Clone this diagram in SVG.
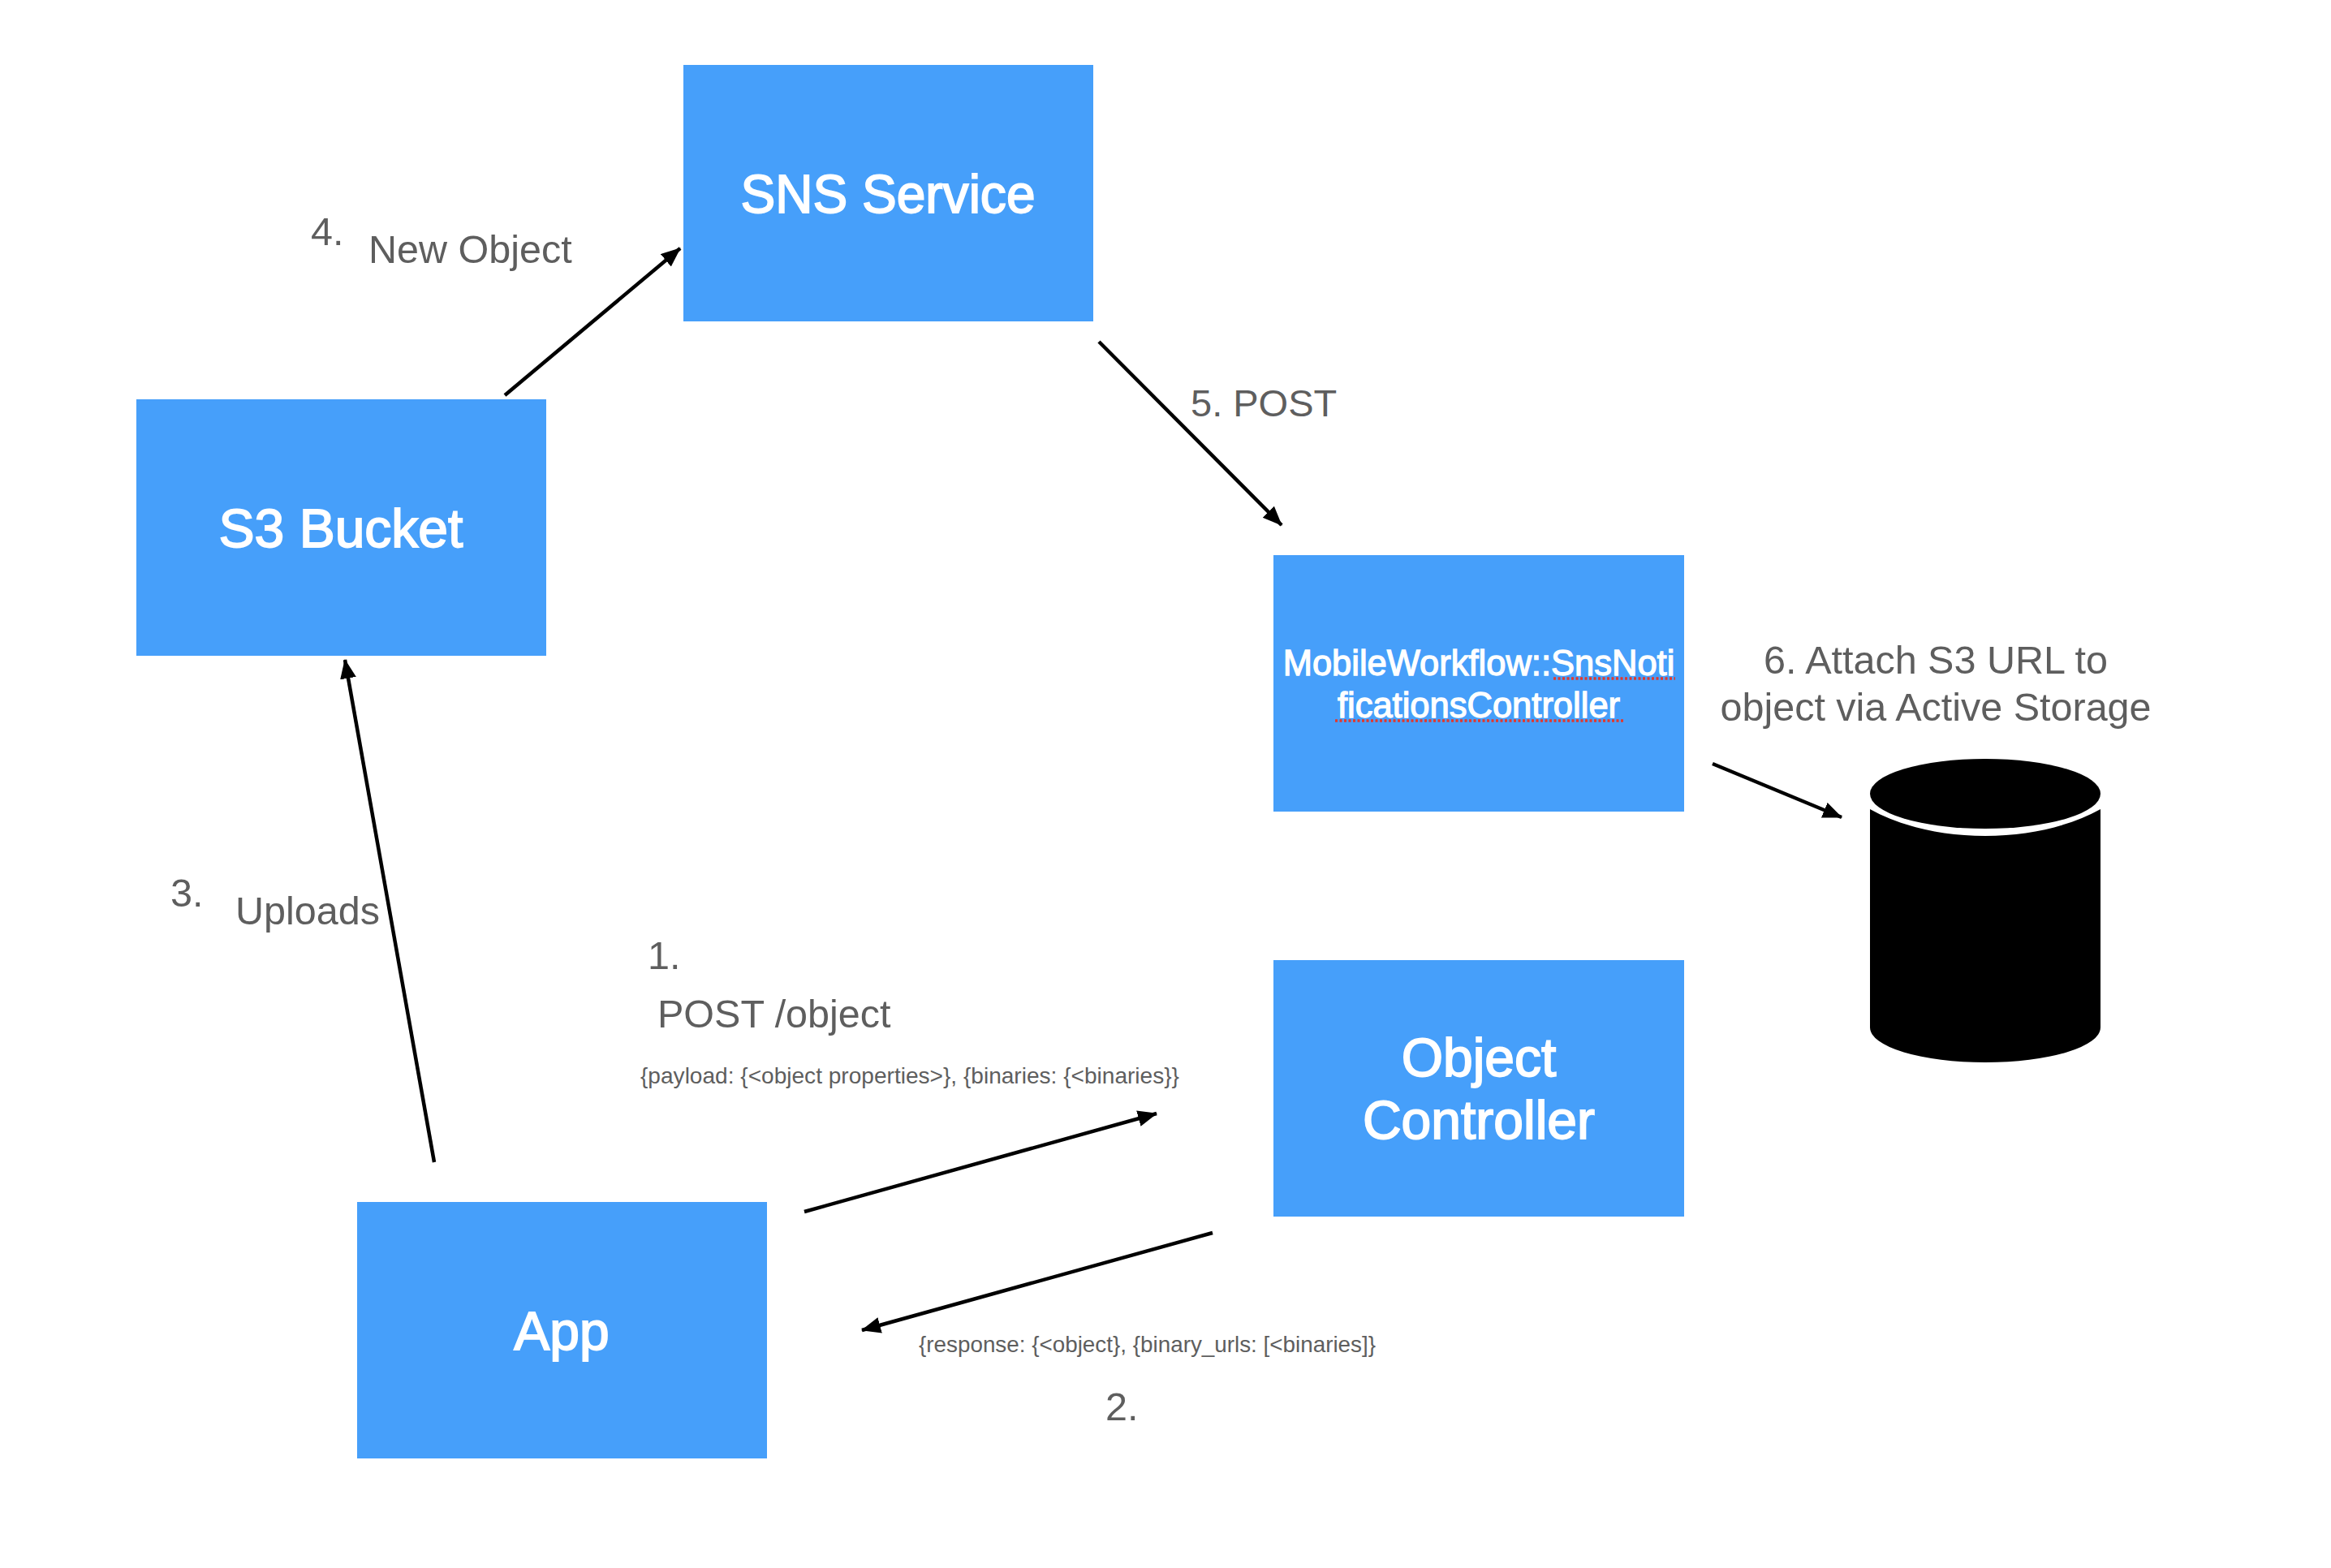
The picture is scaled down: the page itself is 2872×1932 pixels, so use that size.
<svg xmlns="http://www.w3.org/2000/svg" width="2872" height="1932" viewBox="0 0 2872 1932">
<style>
text{font-family:"Liberation Sans",Arial,sans-serif}
.box{fill:#469ffa}
.t{fill:#fff;font-size:66px;text-anchor:middle;stroke:#fff;stroke-width:1.8}
.m{fill:#fff;font-size:43.5px;text-anchor:middle;stroke:#fff;stroke-width:1.3}
.l{fill:#5e5e5e;font-size:48.5px}
.s{fill:#5e5e5e;font-size:28px}
.c{fill:none;stroke:#000;stroke-width:4.5;marker-end:url(#a)}
.q{fill:none;stroke:#e2382c;stroke-width:3.5;stroke-dasharray:3 2.5}
</style>
<defs><marker id="a" markerUnits="userSpaceOnUse" markerWidth="26" markerHeight="22" refX="23" refY="10" orient="auto"><path d="M0 0L24 10L0 20Z" fill="#000"/></marker></defs>
<rect width="2872" height="1932" fill="#fff"/>
<g id="sns-service"><rect class="box" x="842" y="80" width="505" height="316"/><text class="t" x="1094" y="262" textLength="363" lengthAdjust="spacingAndGlyphs">SNS Service</text></g>
<g id="s3-bucket"><rect class="box" x="168" y="492" width="505" height="316"/><text class="t" x="420" y="674">S3 Bucket</text></g>
<g id="sns-controller"><rect class="box" x="1569" y="684" width="506" height="316"/><text class="m" x="1822" y="832">MobileWorkflow::SnsNoti</text><text class="m" x="1822" y="884">ficationsController</text><path class="q" d="M1914 836H2064M1645 888H2000"/></g>
<g id="object-controller"><rect class="box" x="1569" y="1183" width="506" height="316"/><text class="t" x="1822" y="1326">Object</text><text class="t" x="1822" y="1403">Controller</text></g>
<g id="app"><rect class="box" x="440" y="1481" width="505" height="316"/><text class="t" x="692" y="1663">App</text></g>
<g id="storage"><path d="M2304 997C2342 1018 2392 1030 2446 1030C2500 1030 2550 1018 2588 997V1266A142 43 0 0 1 2304 1266Z"/><ellipse cx="2446" cy="978" rx="142" ry="43"/></g>
<g id="connectors">
<path class="c" d="M622 487L838 306"/>
<path class="c" d="M1354 421L1579 647"/>
<path class="c" d="M2110 941L2269 1007"/>
<path class="c" d="M535 1432L425 813"/>
<path class="c" d="M991 1493L1425 1372"/>
<path class="c" d="M1494 1519L1062 1639"/>
</g>
<g id="labels">
<text class="l" x="383" y="302">4.</text>
<text class="l" x="454" y="324">New Object</text>
<text class="l" x="1467" y="513" style="font-size:47px">5. POST</text>
<text class="l" x="2385" y="830" text-anchor="middle">6. Attach S3 URL to</text>
<text class="l" x="2385" y="888" text-anchor="middle">object via Active Storage</text>
<text class="l" x="210" y="1117">3.</text>
<text class="l" x="290" y="1139">Uploads</text>
<text class="l" x="798" y="1194">1.</text>
<text class="l" x="810" y="1266">POST /object</text>
<text class="s" x="789" y="1335" textLength="664" lengthAdjust="spacingAndGlyphs">{payload: {&lt;object properties&gt;}, {binaries: {&lt;binaries}}</text>
<text class="s" x="1132" y="1666" textLength="563" lengthAdjust="spacingAndGlyphs">{response: {&lt;object}, {binary_urls: [&lt;binaries]}</text>
<text class="l" x="1362" y="1750">2.</text>
</g>
</svg>
